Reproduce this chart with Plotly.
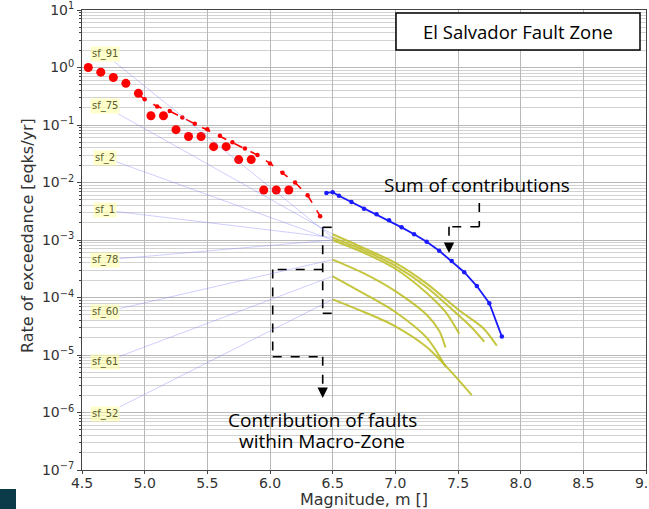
import plotly.graph_objects as go
import math

# ---------------- data ----------------
obs_m = [4.55, 4.65, 4.75, 4.85, 4.95, 5.05, 5.15, 5.25, 5.35, 5.45, 5.55, 5.65, 5.75, 5.85, 5.95, 6.05, 6.15]
obs_rate = [1.0, 0.83, 0.67, 0.53, 0.355, 0.145, 0.145, 0.083, 0.063, 0.063, 0.042, 0.042, 0.025, 0.025, 0.0074, 0.0074, 0.0074]

model_m = [4.95, 5.0, 5.1, 5.2, 5.3, 5.4, 5.5, 5.6, 5.7, 5.8, 5.9, 6.0, 6.1, 6.2, 6.3, 6.4]
model_rate = [0.34, 0.28, 0.21, 0.175, 0.135, 0.105, 0.084, 0.065, 0.050, 0.039, 0.030, 0.0215, 0.0148, 0.010, 0.0060, 0.0026]

sum_m = [6.45, 6.5, 6.55, 6.65, 6.75, 6.85, 6.95, 7.05, 7.15, 7.25, 7.35, 7.45, 7.55, 7.65, 7.75, 7.85]
sum_rate = [0.0066, 0.0068, 0.0059, 0.0046, 0.0035, 0.0028, 0.0022, 0.00166, 0.00126, 0.00093,
            0.00065, 0.00043, 0.000275, 0.000158, 0.0000794, 0.0000209]

fault_a_m = [6.5, 6.75, 7.0, 7.25, 7.5, 7.7, 7.81]
fault_a_rate = [1.26e-3, 7.2e-4, 4.0e-4, 1.74e-4, 6.2e-5, 2.95e-5, 1.45e-5]
fault_b_m = [6.5, 6.75, 7.0, 7.25, 7.5, 7.6, 7.71]
fault_b_rate = [1.10e-3, 6.6e-4, 3.55e-4, 1.51e-4, 5.0e-5, 3.16e-5, 1.70e-5]
fault_c_m = [6.5, 6.75, 7.0, 7.25, 7.4, 7.51]
fault_c_rate = [1.0e-3, 6.0e-4, 3.16e-4, 1.20e-4, 5.6e-5, 2.34e-5]
fault_d_m = [6.5, 6.75, 7.0, 7.25, 7.35, 7.40]
fault_d_rate = [4.57e-4, 2.63e-4, 1.29e-4, 5.0e-5, 2.63e-5, 1.35e-5]
fault_e_m = [6.5, 6.75, 7.0, 7.25, 7.40]
fault_e_rate = [2.34e-4, 1.17e-4, 5.6e-5, 2.0e-5, 6.3e-6]
fault_f_m = [6.5, 6.75, 7.0, 7.25, 7.45, 7.61]
fault_f_rate = [9.3e-5, 5.6e-5, 3.16e-5, 1.38e-5, 5.0e-6, 2.0e-6]

fault_labels = ["sf_91", "sf_75", "sf_2", "sf_1", "sf_78", "sf_60", "sf_61", "sf_52"]
label_rate = [1.7, 0.21, 0.027, 0.0033, 4.5e-4, 5.6e-5, 7.6e-6, 9.3e-7]
label_target_rate = [1.10e-3, 1.26e-3, 1.0e-3, 1.10e-3, 1.0e-3, 4.57e-4, 2.34e-4, 9.3e-5]
label_m = 4.684
target_m = 6.5

x_ticks = [4.5, 5.0, 5.5, 6.0, 6.5, 7.0, 7.5, 8.0, 8.5, 9.0]
y_exps = [-7, -6, -5, -4, -3, -2, -1, 0, 1]

# ---------------- figure ----------------
fig = go.Figure()

yellow = "rgba(188,188,30,0.85)"
for fm, fr in [(fault_a_m, fault_a_rate), (fault_b_m, fault_b_rate), (fault_c_m, fault_c_rate),
               (fault_d_m, fault_d_rate), (fault_e_m, fault_e_rate), (fault_f_m, fault_f_rate)]:
    fig.add_trace(go.Scatter(x=fm, y=fr, mode="lines",
                             line=dict(color=yellow, width=2, shape="spline", smoothing=0.8),
                             hoverinfo="skip", showlegend=False))

fig.add_trace(go.Scatter(x=model_m, y=model_rate, mode="lines+markers",
                         line=dict(color="#ff0000", width=1.6, dash="dash"),
                         marker=dict(color="#ff0000", size=4.5), showlegend=False))
fig.add_trace(go.Scatter(x=obs_m, y=obs_rate, mode="markers",
                         marker=dict(color="#ff0000", size=9), showlegend=False))
fig.add_trace(go.Scatter(x=sum_m, y=sum_rate, mode="lines+markers",
                         line=dict(color="#1a1aff", width=1.8),
                         marker=dict(color="#1a1aff", size=4.5), showlegend=False))

annotations = []
for lab, lr, tr in zip(fault_labels, label_rate, label_target_rate):
    annotations.append(dict(
        x=target_m, y=math.log10(tr), xref="x", yref="y",
        ax=label_m, ay=math.log10(lr), axref="x", ayref="y",
        text=lab, showarrow=True, arrowhead=0, arrowwidth=1,
        arrowcolor="rgba(120,120,255,0.35)",
        font=dict(family="DejaVu Sans", size=10, color="#5c5c30"),
        bgcolor="rgba(255,255,170,0.6)", borderpad=1))

def px2m(px):
    return 4.5 + (px - 82) / (564 / 4.5)

def py2v(py):
    return 10 ** ((67.5 - py) / 57.5)

def py2log(py):
    return (67.5 - py) / 57.5

dash_line = dict(color="black", width=1.6, dash="dash")
shapes = []

def seg(p0, p1):
    shapes.append(dict(type="line", xref="x", yref="y",
                       x0=px2m(p0[0]), y0=py2v(p0[1]), x1=px2m(p1[0]), y1=py2v(p1[1]),
                       line=dash_line))

# Sum bracket
seg((479.3, 203), (479.3, 226.7))
seg((479.3, 226.7), (449, 226.7))
seg((449, 226.7), (449, 241))
annotations.append(dict(x=px2m(449), y=py2log(253), xref="x", yref="y", ax=0, ay=-9,
                        text="", showarrow=True, arrowhead=2, arrowsize=1.3, arrowwidth=1.6,
                        arrowcolor="black"))
# Macro-zone bracket
seg((331.7, 227.3), (322.7, 227.3))
seg((322.7, 227.3), (322.7, 313.3))
seg((322.7, 313.3), (338, 313.3))
seg((322.7, 269.5), (272.7, 269.5))
seg((272.7, 269.5), (272.7, 356.7))
seg((272.7, 356.7), (322.7, 356.7))
seg((322.7, 356.7), (322.7, 386))
annotations.append(dict(x=px2m(322.7), y=py2log(398), xref="x", yref="y", ax=0, ay=-9,
                        text="", showarrow=True, arrowhead=2, arrowsize=1.3, arrowwidth=1.6,
                        arrowcolor="black"))

def pxx(px):
    return (px - 82) / 564

def pxy(py):
    return (470 - py) / 460

slide_font = dict(family="Open Sans", size=19, color="black")
annotations.append(dict(x=pxx(477), y=pxy(185), xref="paper", yref="paper", text="Sum of contributions",
                        showarrow=False, font=slide_font, xanchor="center", yanchor="middle"))
annotations.append(dict(x=pxx(322), y=pxy(420), xref="paper", yref="paper", text="Contribution of faults",
                        showarrow=False, font=slide_font, xanchor="center", yanchor="middle"))
annotations.append(dict(x=pxx(322), y=pxy(441), xref="paper", yref="paper", text="within Macro-Zone",
                        showarrow=False, font=slide_font, xanchor="center", yanchor="middle"))

shapes.append(dict(type="rect", xref="paper", yref="paper", x0=pxx(396), x1=pxx(640), y0=pxy(50), y1=pxy(13),
                   fillcolor="white", line=dict(color="black", width=1.5), layer="above"))
annotations.append(dict(x=pxx(518), y=pxy(32), xref="paper", yref="paper", text="El Salvador Fault Zone",
                        showarrow=False, font=dict(family="Open Sans", size=18.5, color="black"),
                        xanchor="center", yanchor="middle"))
# axis titles
axis_title_font = dict(family="DejaVu Sans", size=16, color="#333")
annotations.append(dict(x=pxx(364), y=pxy(499), xref="paper", yref="paper", text="Magnitude, m []",
                        showarrow=False, font=axis_title_font, xanchor="center", yanchor="middle"))
annotations.append(dict(x=pxx(27), y=pxy(236), xref="paper", yref="paper", text="Rate of exceedance [eqks/yr]",
                        showarrow=False, font=axis_title_font, textangle=-90,
                        xanchor="center", yanchor="middle"))
# slide corner block
shapes.append(dict(type="rect", xref="paper", yref="paper", x0=pxx(0), x1=pxx(16), y0=pxy(509), y1=pxy(489),
                   fillcolor="#0b3a48", line=dict(width=0), layer="above"))

minor_vals = [k * 10 ** e for e in range(-7, 1) for k in range(2, 10)]

fig.update_layout(
    width=649, height=509,
    margin=dict(l=82, r=3, t=10, b=39),
    paper_bgcolor="white", plot_bgcolor="white",
    showlegend=False,
    shapes=shapes, annotations=annotations,
    xaxis=dict(range=[4.5, 9.0], tickvals=x_ticks, ticktext=[f"{v:.1f}" for v in x_ticks],
               showgrid=True, gridcolor="#b8b8b8", gridwidth=1, automargin=False,
               showline=True, linecolor="#444", linewidth=1, mirror=True,
               ticks="outside", ticklen=3, tickcolor="#444", ticklabeloverflow="allow",
               ticklabelstandoff=-3,
               tickfont=dict(family="DejaVu Sans", size=14, color="#333"),
               zeroline=False),
    yaxis=dict(type="log", range=[-7, 1], automargin=False,
               tickvals=[10 ** e for e in y_exps],
               ticktext=[("10<sup>%s</sup>" % (str(e).replace("-", "−"))) for e in y_exps],
               showgrid=True, gridcolor="#b8b8b8", gridwidth=1,
               minor=dict(tickvals=minor_vals, showgrid=True, gridcolor="#d2d2d2", gridwidth=1,
                          ticks="outside", ticklen=2, tickcolor="#444"),
               showline=True, linecolor="#444", linewidth=1, mirror=True,
               ticks="outside", ticklen=4, tickcolor="#444",
               tickfont=dict(family="DejaVu Sans", size=14, color="#333"),
               zeroline=False),
)

fig.write_html("out.html")
